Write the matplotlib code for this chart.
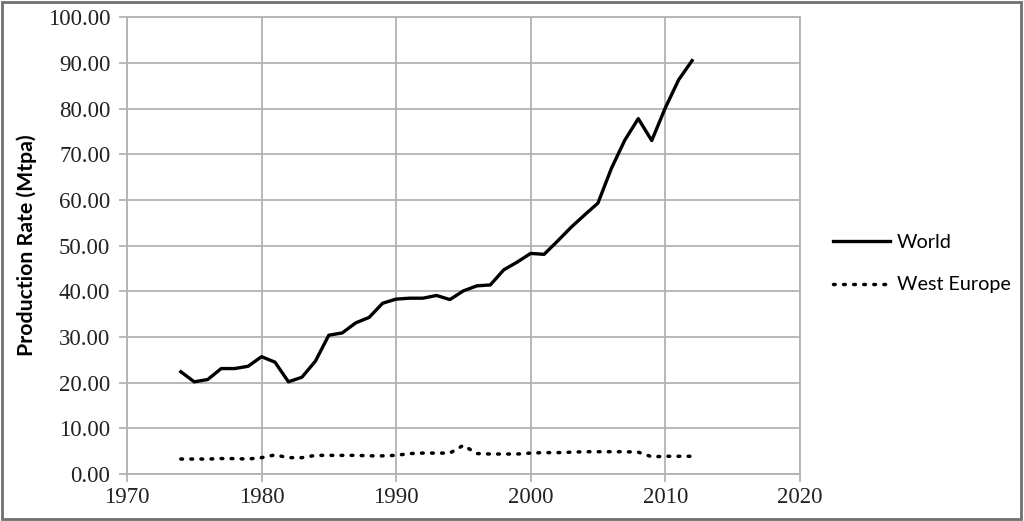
import matplotlib
matplotlib.use('Agg')
import matplotlib.pyplot as plt
from matplotlib.patches import Rectangle

# data
years = list(range(1974, 2013))
world = [22.4, 20.2, 20.7, 23.1, 23.1, 23.6, 25.7, 24.5, 20.2, 21.2,
         24.7, 30.4, 30.9, 33.1, 34.3, 37.4, 38.3, 38.5, 38.5, 39.1,
         38.2, 40.1, 41.2, 41.4, 44.7, 46.4, 48.3, 48.1, 51.0, 54.0,
         56.7, 59.3, 66.9, 73.1, 77.8, 73.0, 80.1, 86.3, 90.5]
west_europe = [3.3, 3.3, 3.3, 3.4, 3.4, 3.3, 3.6, 4.2, 3.6, 3.6,
               4.1, 4.1, 4.1, 4.1, 4.0, 4.0, 4.1, 4.5, 4.6, 4.6,
               4.6, 6.3, 4.5, 4.4, 4.4, 4.4, 4.6, 4.7, 4.7, 4.8,
               4.9, 4.9, 4.9, 4.9, 4.8, 3.8, 3.9, 3.9, 3.9]
yticks = [0, 10, 20, 30, 40, 50, 60, 70, 80, 90, 100]
xticks = [1970, 1980, 1990, 2000, 2010, 2020]

grid_col = '#b3b3b3'

fig = plt.figure(figsize=(10.24, 5.21), dpi=100)
ax = fig.add_axes([0.124, 0.090, 0.657, 0.877])

ax.plot(years, world, color='black', lw=2.4, label='World')
ax.plot(years, west_europe, color='black', lw=2.5, linestyle=(0, (0.5, 2.4)),
        dash_capstyle='round', label='West Europe')

ax.set_xlim(1970, 2020)
ax.set_ylim(0, 100)
ax.set_xticks(xticks)
ax.set_yticks(yticks)
ax.set_yticklabels(['%.2f' % v for v in yticks])
ax.grid(True, color=grid_col, lw=1.3)
ax.set_axisbelow(True)
for s in ax.spines.values():
    s.set_color(grid_col)
    s.set_linewidth(1.3)
ax.tick_params(axis='both', colors=grid_col, length=6, width=1.3,
               labelcolor='#222222', labelsize=16.5)
ax.tick_params(axis='y', pad=6)
for lab in ax.get_xticklabels() + ax.get_yticklabels():
    lab.set_family('Liberation Serif')
ax.set_ylabel('Production Rate (Mtpa)', fontsize=15.3, fontweight='bold',
              family='Lato', labelpad=8)

fig.legend(loc='center left', bbox_to_anchor=(0.796, 0.494), frameon=False,
           prop={'family': 'Lato', 'size': 14.2}, handlelength=2.9,
           labelspacing=1.3, handletextpad=0.35)

fig.patches.append(Rectangle((0.002, 0.003), 0.995, 0.993, transform=fig.transFigure,
                             fill=False, edgecolor='#707070', lw=2))

fig.savefig('out.png', dpi=100)
